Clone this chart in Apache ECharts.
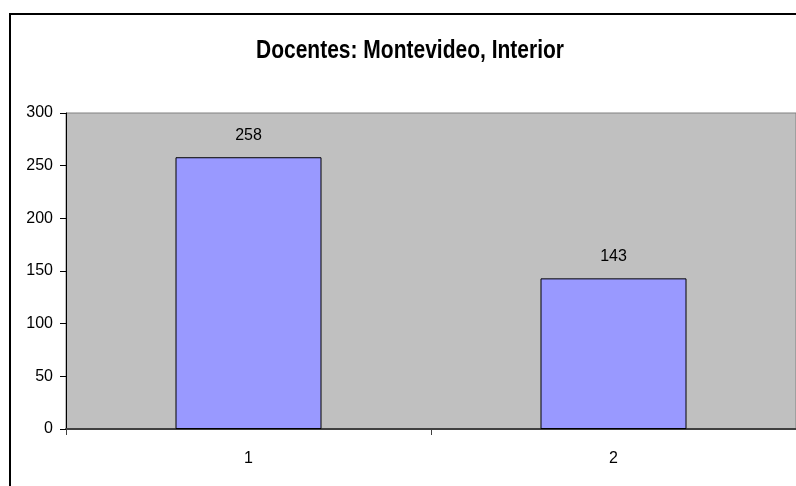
<!DOCTYPE html>
<html>
<head>
<meta charset="utf-8">
<script src="https://cdn.jsdelivr.net/npm/echarts@6/dist/echarts.min.js"></script>
<style>
  html, body { margin: 0; padding: 0; background: #fff; }
  #chart { width: 796px; height: 486px; }
</style>
</head>
<body>
<div id="chart"></div>
<script>
// values
const categories = ['1', '2'];
const docentes = [258, 143];
const yTicks = [0, 50, 100, 150, 200, 250, 300];
const titleText = 'Docentes: Montevideo, Interior';

const chart = echarts.init(document.getElementById('chart'));

chart.setOption({
    animation: false,
    backgroundColor: '#ffffff',
    graphic: [{
        type: 'rect',
        shape: { x: 10, y: 14, width: 800, height: 500 },
        style: { fill: 'none', stroke: '#000', lineWidth: 2 },
        silent: true
    }, {
        // title, squeezed horizontally like the narrow bold font in the original
        type: 'text',
        x: 410,
        y: 51,
        scaleX: 0.84,
        style: {
            text: titleText,
            font: 'bold 25px "Liberation Sans", Arial, sans-serif',
            fill: '#000',
            textAlign: 'center',
            textVerticalAlign: 'middle'
        },
        silent: true
    }],
    grid: {
        left: 66,
        top: 113,
        right: -2,
        bottom: 57,
        show: true,
        backgroundColor: '#C0C0C0',
        borderColor: '#808080',
        borderWidth: 1
    },
    xAxis: {
        type: 'category',
        data: categories,
        axisLine: { lineStyle: { color: '#404040', width: 2 } },
        axisTick: { show: true, alignWithLabel: false, length: 6, lineStyle: { color: '#404040' } },
        axisLabel: {
            margin: 22,
            fontFamily: '"Liberation Sans", Arial, sans-serif',
            fontSize: 16,
            color: '#000'
        }
    },
    yAxis: {
        type: 'value',
        min: yTicks[0],
        max: yTicks[yTicks.length - 1],
        interval: yTicks[1] - yTicks[0],
        axisLine: { show: true, lineStyle: { color: '#000', width: 1 } },
        axisTick: { show: true, length: 6, lineStyle: { color: '#000' } },
        splitLine: { show: false },
        axisLabel: {
            margin: 13,
            fontFamily: '"Liberation Sans", Arial, sans-serif',
            fontSize: 16,
            color: '#000'
        }
    },
    series: [{
        type: 'bar',
        data: docentes,
        barWidth: '40%',
        itemStyle: { color: '#9999FF', borderColor: '#000', borderWidth: 1 },
        label: {
            show: true,
            position: 'top',
            distance: 14,
            fontFamily: '"Liberation Sans", Arial, sans-serif',
            fontSize: 16,
            color: '#000'
        }
    }]
});
</script>
</body>
</html>
